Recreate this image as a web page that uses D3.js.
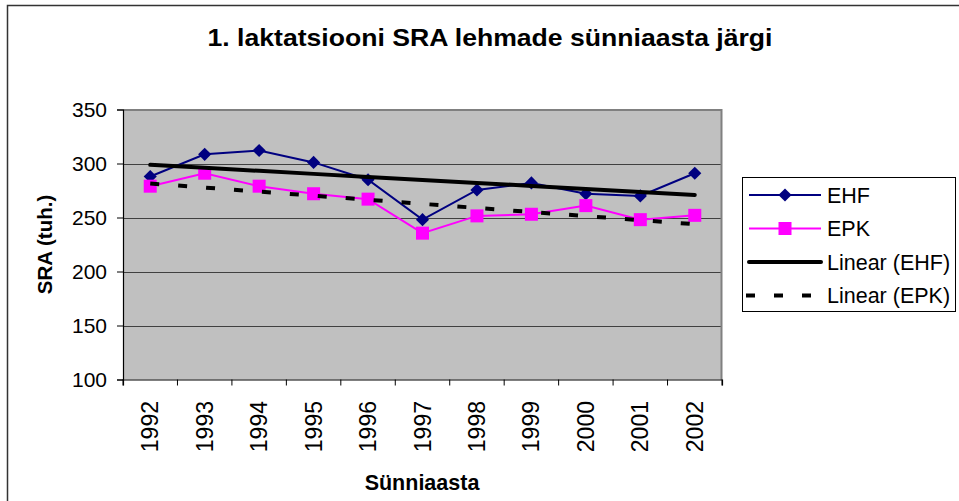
<!DOCTYPE html>
<html>
<head>
<meta charset="utf-8">
<script src="https://cdn.jsdelivr.net/npm/d3@7"></script>
<style>
  body { margin: 0; background: #fff; }
  text { font-family: "Liberation Sans", Arial, sans-serif; fill: #000; }
</style>
</head>
<body>
<svg id="chart" width="959" height="501"></svg>
<script>
// data
var years = ["1992","1993","1994","1995","1996","1997","1998","1999","2000","2001","2002"];
var ehf = [288, 308.5, 312, 301, 285, 248, 275.5, 282, 272, 270, 291];
var epk = [279, 291, 279, 272, 267, 235.5, 251.5, 253, 261, 248, 252];
var yTicks = [100, 150, 200, 250, 300, 350];

var svg = d3.select("#chart")
  , pLeft = 123, pRight = 722, pTop = 109.5, pBottom = 379.5;

var x = d3.scaleBand().domain(years).range([pLeft, pRight]);
var y = d3.scaleLinear().domain([100, 350]).range([pBottom, pTop]);
var cx = function(d, i) { return x(years[i]) + x.bandwidth() / 2; };

// least squares trend, same as the spreadsheet "Linear" trendline
function trend(vals) {
  var n = vals.length, mx = (n - 1) / 2, my = d3.mean(vals), sxy = 0, sxx = 0;
  vals.forEach(function(v, i) { sxy += (i - mx) * (v - my); sxx += (i - mx) * (i - mx); });
  var b = sxy / sxx;
  return vals.map(function(v, i) { return my + b * (i - mx); });
}

// outer frame
svg.append("rect").attr("x", 7.5).attr("y", 5.5).attr("width", 960).attr("height", 500)
  .attr("fill", "none").attr("stroke", "#333").attr("stroke-width", 1.5);

// title
svg.append("text").attr("x", 490).attr("y", 46).attr("text-anchor", "middle")
  .attr("textLength", 565).attr("lengthAdjust", "spacingAndGlyphs")
  .style("font-size", "24px").style("font-weight", "bold")
  .text("1. laktatsiooni SRA lehmade sünniaasta järgi");

// plot area
svg.append("rect").attr("x", pLeft).attr("y", pTop).attr("width", pRight - pLeft).attr("height", pBottom - pTop)
  .attr("fill", "#c0c0c0");

svg.append("g").selectAll("line").data(yTicks.slice(1, -1)).enter().append("line")
  .attr("x1", pLeft).attr("x2", pRight)
  .attr("y1", function(d) { return Math.round(y(d)) + 0.5; })
  .attr("y2", function(d) { return Math.round(y(d)) + 0.5; })
  .attr("stroke", "#404040").attr("stroke-width", 1);

// grey top and right border of the plot area
svg.append("path")
  .attr("d", "M" + pLeft + "," + (pTop + 0.5) + "H" + (pRight - 0.5) + "V" + pBottom)
  .attr("fill", "none").attr("stroke", "#808080").attr("stroke-width", 2);

// axes
var yAxis = svg.append("g").attr("transform", "translate(" + pLeft + ",0)")
  .call(d3.axisLeft(y).tickValues(yTicks).tickSize(6).tickPadding(10));
var xAxis = svg.append("g").attr("transform", "translate(0," + pBottom + ")")
  .call(d3.axisBottom(x).tickSize(6).tickFormat(""));
// category ticks sit on the band edges
xAxis.selectAll(".tick").remove();
xAxis.selectAll(".edge").data(d3.range(years.length + 1)).enter().append("line")
  .attr("x1", function(i) { return pLeft + i * x.bandwidth(); })
  .attr("x2", function(i) { return pLeft + i * x.bandwidth(); })
  .attr("y1", 0).attr("y2", 6).attr("stroke", "#000");
[yAxis, xAxis].forEach(function(a) {
  a.select(".domain").attr("stroke", "#000").attr("stroke-width", 1.2);
  a.selectAll("line").attr("stroke", "#000");
});
yAxis.selectAll("text").style("font-size", "21px").attr("fill", "#000")
  .style("font-family", "'Liberation Sans', Arial, sans-serif");

svg.append("g").selectAll("text").data(years).enter().append("text")
  .attr("transform", function(d) { return "translate(" + (x(d) + x.bandwidth() / 2) + ",401) rotate(-90)"; })
  .attr("text-anchor", "end").attr("dy", "0.35em")
  .style("font-size", "23px")
  .text(function(d) { return d; });

// axis titles
svg.append("text").attr("x", 422).attr("y", 490).attr("text-anchor", "middle")
  .style("font-size", "21.5px").style("font-weight", "bold").text("Sünniaasta");
svg.append("text").attr("transform", "translate(52," + ((pTop + pBottom) / 2) + ") rotate(-90)")
  .attr("text-anchor", "middle")
  .style("font-size", "20.5px").style("font-weight", "bold").text("SRA (tuh.)");

var line = d3.line().x(function(d, i) { return cx(d, i); }).y(function(d) { return y(d); });

// series
svg.append("path").datum(ehf).attr("d", line)
  .attr("fill", "none").attr("stroke", "#000080").attr("stroke-width", 2);
svg.append("path").datum(epk).attr("d", line)
  .attr("fill", "none").attr("stroke", "#ff00ff").attr("stroke-width", 2);

var diamond = d3.symbol().type(d3.symbolDiamond2).size(110);
svg.append("g").selectAll("path").data(ehf).enter().append("path")
  .attr("transform", function(d, i) { return "translate(" + cx(d, i) + "," + y(d) + ")"; })
  .attr("d", diamond).attr("fill", "#000080");
svg.append("g").selectAll("rect").data(epk).enter().append("rect")
  .attr("x", function(d, i) { return cx(d, i) - 6.5; })
  .attr("y", function(d) { return y(d) - 6.5; })
  .attr("width", 13).attr("height", 13).attr("fill", "#ff00ff");

// trendlines
svg.append("path").datum(trend(ehf)).attr("d", line)
  .attr("fill", "none").attr("stroke", "#000").attr("stroke-width", 4).attr("stroke-linecap", "round");
svg.append("path").datum(trend(epk)).attr("d", line)
  .attr("fill", "none").attr("stroke", "#000").attr("stroke-width", 4)
  .attr("stroke-dasharray", "9,19");

// legend
var lg = svg.append("g");
lg.append("rect").attr("x", 742.5).attr("y", 177.5).attr("width", 213).attr("height", 134)
  .attr("fill", "#fff").attr("stroke", "#000");
var items = [
  { name: "EHF", color: "#000080", w: 2, mark: "diamond" },
  { name: "EPK", color: "#ff00ff", w: 2, mark: "square" },
  { name: "Linear (EHF)", color: "#000", w: 4 },
  { name: "Linear (EPK)", color: "#000", w: 4, dash: "9,19" }
];
items.forEach(function(it, i) {
  var ly = 195 + i * 33.5;
  var ln = lg.append("line").attr("x1", it.dash ? 746 : 749).attr("x2", 821).attr("y1", ly).attr("y2", ly)
    .attr("stroke", it.color).attr("stroke-width", it.w);
  if (it.dash) ln.attr("stroke-dasharray", "9,19");
  else if (it.w > 2) ln.attr("stroke-linecap", "round");
  if (it.mark === "diamond") {
    lg.append("path").attr("transform", "translate(785," + ly + ")").attr("d", diamond).attr("fill", it.color);
  } else if (it.mark === "square") {
    lg.append("rect").attr("x", 778.5).attr("y", ly - 6.5).attr("width", 13).attr("height", 13).attr("fill", it.color);
  }
  lg.append("text").attr("x", 827).attr("y", ly).attr("dy", "0.35em")
    .style("font-size", "21.5px").text(it.name);
});
</script>
</body>
</html>
